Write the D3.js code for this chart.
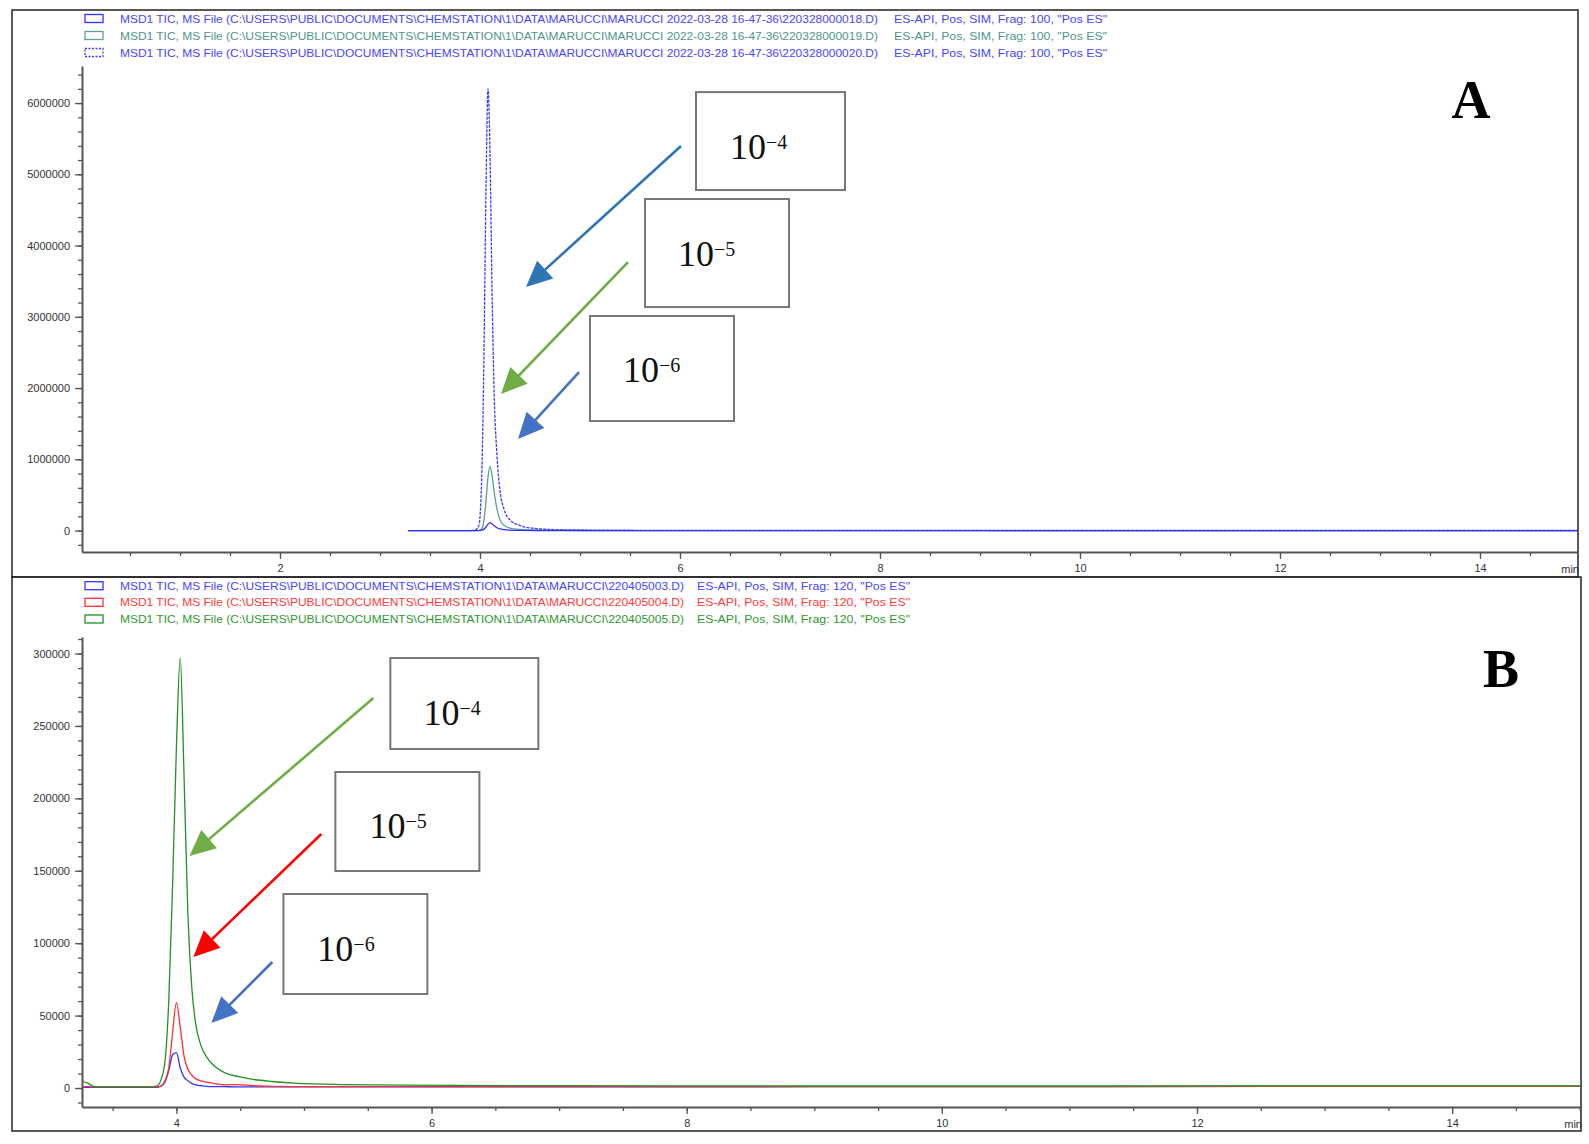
<!DOCTYPE html>
<html>
<head>
<meta charset="utf-8">
<script src="https://cdn.jsdelivr.net/npm/d3@7"></script>
<style>
  body{margin:0;background:#fff}
  svg{display:block}
  .tick text{font-family:"Liberation Sans",Arial,sans-serif;font-size:11px;fill:#333}
</style>
</head>
<body>
<div id="chart"></div>
<script>
// ---- panel A: three injections, TIC (counts) vs time (min)
const timeA  = [3.28,3.90,3.96,3.99,4.02,4.04,4.06,4.08,4.10,4.12,4.14,4.17,4.20,4.24,4.30,4.40,4.55,4.80,5.50,7.0,10.0,15.0];
const tic018 = [0,0,0,0,5000,20000,50000,90000,110000,95000,70000,40000,22000,12000,6000,2500,1000,500,0,0,0,0];
const tic019 = [0,0,0,2000,30000,150000,420000,750000,900000,780000,560000,300000,150000,75000,35000,15000,6000,2500,0,0,0,0];
const tic020 = [0,0,15000,80000,900000,2500000,4800000,6200000,5300000,3400000,2000000,1050000,560000,300000,150000,70000,30000,12000,4000,2000,1000,1000];
const legendA = [
  String.raw`MSD1 TIC, MS File (C:\USERS\PUBLIC\DOCUMENTS\CHEMSTATION\1\DATA\MARUCCI\MARUCCI 2022-03-28 16-47-36\220328000018.D)`,
  String.raw`MSD1 TIC, MS File (C:\USERS\PUBLIC\DOCUMENTS\CHEMSTATION\1\DATA\MARUCCI\MARUCCI 2022-03-28 16-47-36\220328000019.D)`,
  String.raw`MSD1 TIC, MS File (C:\USERS\PUBLIC\DOCUMENTS\CHEMSTATION\1\DATA\MARUCCI\MARUCCI 2022-03-28 16-47-36\220328000020.D)`
];
const methodA = 'ES-API, Pos, SIM, Frag: 100, "Pos ES"';
const yTicksA = [0,1000000,2000000,3000000,4000000,5000000,6000000];
const xTicksA = [2,4,6,8,10,12,14];

// ---- panel B
const timeB  = [3.26,3.30,3.35,3.40,3.60,3.80,3.85,3.88,3.91,3.94,3.97,4.00,4.03,4.06,4.09,4.12,4.15,4.19,4.24,4.30,4.38,4.48,4.60,4.75,4.95,5.30,5.80,7.0,9.0,11.0,13.0,15.0];
const tic003 = [500,500,500,500,500,500,500,1200,4000,12000,23000,24500,14000,7500,5000,3200,2200,1600,1200,1000,900,800,800,800,800,800,800,800,900,1000,1100,1200];
const tic004 = [900,900,800,800,800,800,800,1500,5000,14000,38000,59000,42000,22000,13000,9000,6500,5000,4000,3000,2200,2400,1600,1100,1000,1000,1000,1000,1000,1000,1100,1200];
const tic005 = [4800,3500,1200,800,800,800,1500,6000,18000,60000,140000,235000,297000,215000,120000,70000,45000,30000,21000,15000,10500,8000,6000,4500,3200,2400,2000,1600,1400,1400,1500,1500];
const legendB = [
  String.raw`MSD1 TIC, MS File (C:\USERS\PUBLIC\DOCUMENTS\CHEMSTATION\1\DATA\MARUCCI\220405003.D)`,
  String.raw`MSD1 TIC, MS File (C:\USERS\PUBLIC\DOCUMENTS\CHEMSTATION\1\DATA\MARUCCI\220405004.D)`,
  String.raw`MSD1 TIC, MS File (C:\USERS\PUBLIC\DOCUMENTS\CHEMSTATION\1\DATA\MARUCCI\220405005.D)`
];
const methodB = 'ES-API, Pos, SIM, Frag: 120, "Pos ES"';
const yTicksB = [0,50000,100000,150000,200000,250000,300000];
const xTicksB = [4,6,8,10,12,14];

const concLabels = ['−4','−5','−6'];

const W=1589,H=1144;
const svg=d3.select('#chart').append('svg').attr('width',W).attr('height',H);
svg.append('rect').attr('width',W).attr('height',H).attr('fill','#fff');

const SERIF='"Palatino Linotype","Book Antiqua","Liberation Serif","DejaVu Serif",serif';
const SANS='"Liberation Sans",Arial,sans-serif';

function panel(o){
  const g=svg.append('g');
  // frame
  g.append('rect').attr('x',o.box[0]).attr('y',o.box[1]).attr('width',o.box[2]-o.box[0]).attr('height',o.box[3]-o.box[1])
    .attr('fill','none').attr('stroke','#222').attr('stroke-width',1.5);

  // legend
  o.legend.forEach((s,i)=>{
    const cy=o.legendY[i];
    g.append('rect').attr('x',85).attr('y',cy-4).attr('width',18).attr('height',8)
      .attr('fill','none').attr('stroke',o.colors[i]).attr('stroke-width',1.3)
      .attr('stroke-dasharray',o.dash[i]?'2,1.5':null);
    g.append('text').attr('x',120).attr('y',cy+4).text(s)
      .attr('font-family',SANS).attr('font-size',11).attr('fill',o.textColors[i])
      .attr('textLength',o.legendEnd-120).attr('lengthAdjust','spacingAndGlyphs');
    g.append('text').attr('x',o.methodX[0]).attr('y',cy+4).text(o.method)
      .attr('font-family',SANS).attr('font-size',11).attr('fill',o.textColors[i])
      .attr('textLength',o.methodX[1]-o.methodX[0]).attr('lengthAdjust','spacingAndGlyphs');
  });

  const x=o.x,y=o.y;
  const [x0,x1]=x.range(), [yb,yt]=y.range();
  // axes
  const ax=g.append('g').attr('color','#555');
  ax.append('g').attr('transform',`translate(${x0},0)`)
    .call(d3.axisLeft(y).tickValues(o.yMinor).tickSize(4).tickFormat('').tickSizeOuter(0))
    .call(s=>s.select('.domain').attr('stroke-width',2));
  ax.append('g').attr('transform',`translate(${x0},0)`)
    .call(d3.axisLeft(y).tickValues(o.yTicks).tickSize(7).tickPadding(5).tickFormat(d3.format('d')).tickSizeOuter(0))
    .call(s=>s.select('.domain').remove());
  ax.append('g').attr('transform',`translate(0,${yb})`)
    .call(d3.axisBottom(x).tickValues(o.xMinor).tickSize(4).tickFormat('').tickSizeOuter(0))
    .call(s=>s.select('.domain').attr('stroke-width',2));
  ax.append('g').attr('transform',`translate(0,${yb})`)
    .call(d3.axisBottom(x).tickValues(o.xTicks).tickSize(7).tickPadding(5).tickSizeOuter(0))
    .call(s=>s.select('.domain').remove());
  ax.selectAll('.tick line').attr('stroke-width',1.3);
  g.append('text').attr('x',x1+1).attr('y',yb+21).attr('text-anchor','end')
    .attr('font-family',SANS).attr('font-size',11).attr('fill','#333').text('min');

  // traces
  const cid='clip'+o.id;
  g.append('clipPath').attr('id',cid).append('rect').attr('x',x0+1).attr('y',yt).attr('width',x1-x0-1).attr('height',yb-yt-1);
  const line=d3.line().x(d=>x(d[0])).y(d=>y(d[1])).curve(d3.curveMonotoneX);
  const lg=g.append('g').attr('clip-path',`url(#${cid})`);
  o.order.forEach(i=>{
    lg.append('path').attr('d',line(o.time.map((t,k)=>[t,o.series[i][k]])))
      .attr('fill','none').attr('stroke',o.colors[i]).attr('stroke-width',1.3)
      .attr('stroke-dasharray',o.dash[i]?'3,1.2':null);
  });

  // annotation boxes
  o.notes.forEach((n,i)=>{
    g.append('rect').attr('x',x(n.t0)).attr('y',y(n.v0)).attr('width',x(n.t1)-x(n.t0)).attr('height',y(n.v1)-y(n.v0))
      .attr('fill','#fff').attr('stroke','#777').attr('stroke-width',2);
    const tx=g.append('text').attr('x',x(n.tt)).attr('y',y(n.tv)).attr('font-family',SERIF).attr('font-size',36).attr('fill','#111').text('10');
    tx.append('tspan').attr('dy',-10).attr('font-size',20).text(concLabels[i]);
    arrow(g,x(n.a[0]),y(n.a[1]),x(n.a[2]),y(n.a[3]),n.c);
  });
  g.append('text').attr('x',x(o.tag[0])).attr('y',y(o.tag[1])).attr('text-anchor','middle')
    .attr('font-family',SERIF).attr('font-weight','bold').attr('font-size',54).attr('fill','#000').text(o.tag[2]);
}

function arrow(g,x1,y1,x2,y2,c){
  const dx=x2-x1,dy=y2-y1,L=Math.hypot(dx,dy),ux=dx/L,uy=dy/L;
  const hl=26,hw=12;
  const bx=x2-ux*hl,by=y2-uy*hl;
  g.append('line').attr('x1',x1).attr('y1',y1).attr('x2',bx+ux*2).attr('y2',by+uy*2)
    .attr('stroke',c).attr('stroke-width',2.6);
  g.append('path').attr('d',`M${x2},${y2}L${bx-uy*hw},${by+ux*hw}L${bx+uy*hw},${by-ux*hw}Z`).attr('fill',c);
}

const xA=d3.scaleLinear().domain([0.02,14.98]).range([82,1578]);
const yA=d3.scaleLinear().domain([-301000,6520000]).range([552,66]);
panel({
  id:'A', box:[12,10,1578,577], x:xA, y:yA,
  legend:legendA, legendY:[18.5,35.5,52.5], legendEnd:878, method:methodA, methodX:[894,1107],
  colors:['#3030ff','#5f9e96','#3a3aff'], textColors:['#4646ff','#4f958b','#4646ff'], dash:[false,false,true],
  time:timeA, series:[tic018,tic019,tic020], order:[2,1,0],
  yTicks:yTicksA, yMinor:d3.range(-200000,6500001,200000), xTicks:xTicksA, xMinor:d3.range(0.5,15,0.5),
  notes:[
    {t0:6.16,t1:7.65,v0:6154000,v1:4779000,tt:6.50,tv:5214000,a:[6.01,5396000,4.46,3418000],c:'#2e75b6'},
    {t0:5.65,t1:7.09,v0:4653000,v1:3137000,tt:5.98,tv:3712000,a:[5.48,3768000,4.21,1916000],c:'#70ad47'},
    {t0:5.10,t1:6.54,v0:3011000,v1:1537000,tt:5.43,tv:2084000,a:[4.99,2225000,4.38,1284000],c:'#4472c4'}
  ],
  tag:[13.91,5789000,'A']
});

const xB=d3.scaleLinear().domain([3.26,15.01]).range([82,1581]);
const yB=d3.scaleLinear().domain([-13100,311400]).range([1107,637]);
panel({
  id:'B', box:[12,577,1581,1131], x:xB, y:yB,
  legend:legendB, legendY:[585.7,602.3,619], legendEnd:684, method:methodB, methodX:[697,910],
  colors:['#3535ff','#ff3030','#239023'], textColors:['#4646ff','#ff3a3a','#2f9a2f'], dash:[false,false,false],
  time:timeB, series:[tic003,tic004,tic005], order:[0,1,2],
  yTicks:yTicksB, yMinor:d3.range(-10000,310001,10000), xTicks:xTicksB, xMinor:d3.range(3.5,15.01,0.5),
  notes:[
    {t0:5.677,t1:6.837,v0:296900,v1:234070,tt:5.936,tv:250640,a:[5.544,269280,4.102,160190],c:'#70ad47'},
    {t0:5.246,t1:6.375,v0:218190,v1:149830,tt:5.513,tv:172620,a:[5.136,175380,4.133,90450],c:'#ff0000'},
    {t0:4.839,t1:5.967,v0:133950,v1:64900,tt:5.105,tv:87690,a:[4.752,87000,4.274,44880],c:'#4472c4'}
  ],
  tag:[14.384,276880,'B']
});
</script>
</body>
</html>
